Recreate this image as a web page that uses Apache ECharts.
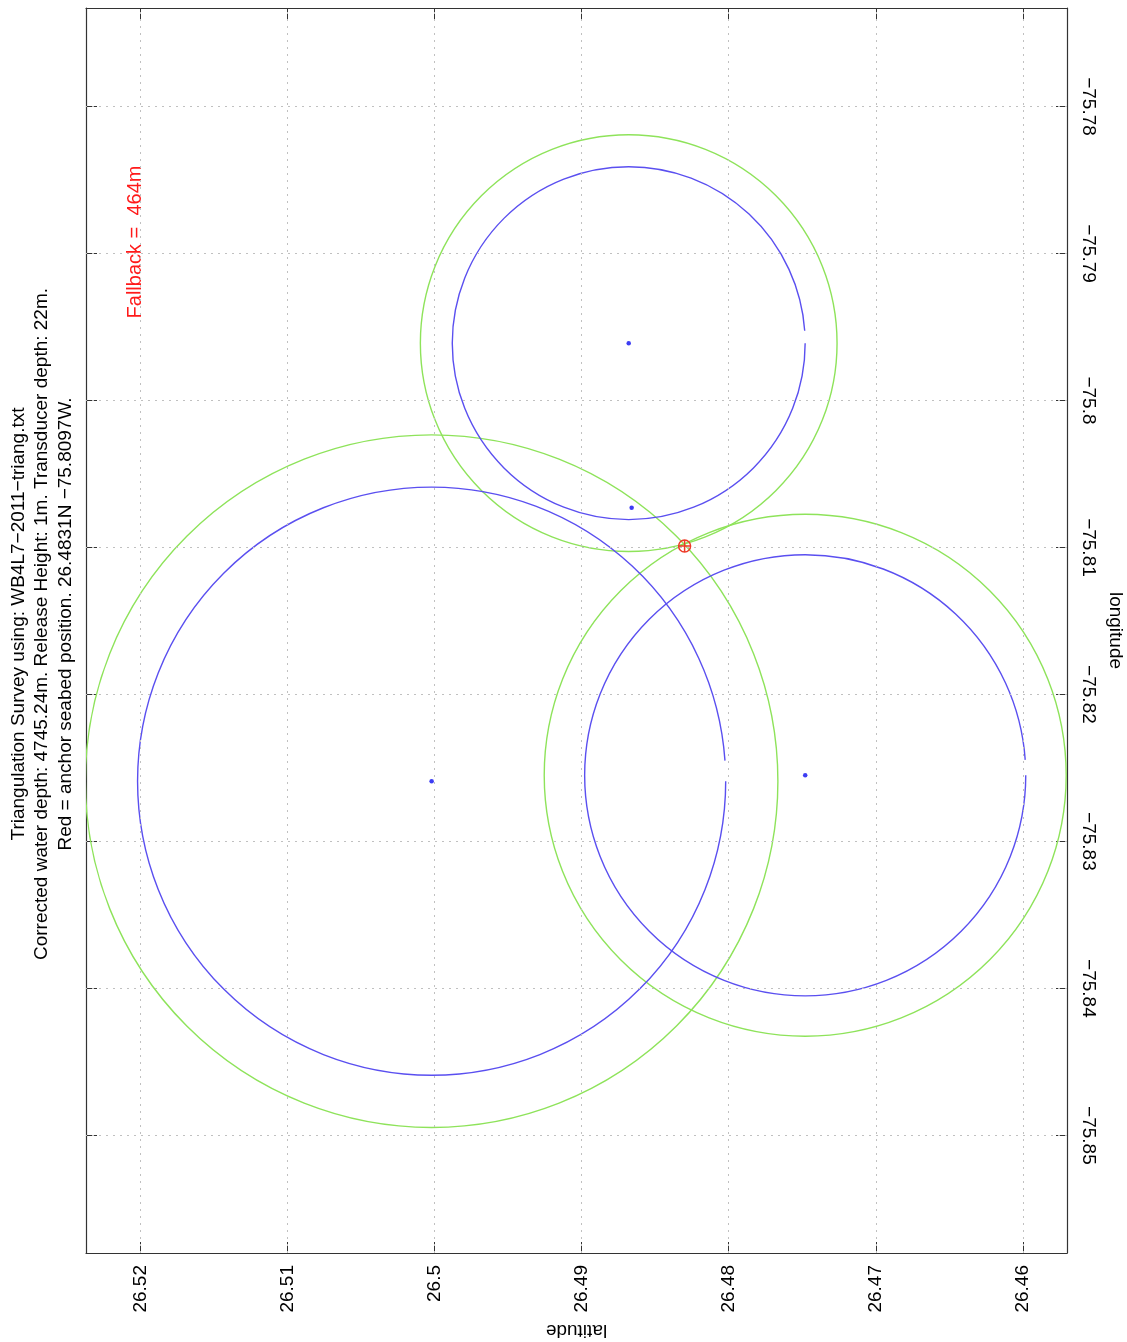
<!DOCTYPE html>
<html><head><meta charset="utf-8">
<script src="https://cdn.jsdelivr.net/npm/echarts@6/dist/echarts.min.js"></script>
<style>html,body{margin:0;padding:0;background:#fff}#c{width:1127px;height:1342px}</style>
</head><body><div id="c"></div>
<script>
// ---- data ----
const latTicks = [26.46, 26.47, 26.48, 26.49, 26.50, 26.51, 26.52];
const lonTicks = [-75.85, -75.84, -75.83, -75.82, -75.81, -75.80, -75.79, -75.78];
const latRange = [26.4570, 26.5237];
const lonRange = [-75.8580, -75.7733];
const stationLat = [26.5002, 26.4868, 26.4748];
const stationLon = [-75.8259, -75.7961, -75.8255];
const blueRadius = [0.0200, 0.0120, 0.0150];
const greenRadius = [0.02355, 0.01417, 0.01775];
const extraDotLat = [26.4866];
const extraDotLon = [-75.8073];
const anchorLat = [26.4830];
const anchorLon = [-75.8099];
const titleLines = [
  'Triangulation Survey using: WB4L7\u22122011\u2212triang.txt',
  'Corrected water depth: 4745.24m. Release Height: 1m. Transducer depth: 22m.',
  'Red = anchor seabed position. 26.4831N \u221275.8097W.'
];
const fallbackText = 'Fallback =  464m';

const FONT = 'Liberation Sans, Arial, Helvetica, sans-serif';
const FS = 19;

function fmt(v) {
  return parseFloat(Number(v).toFixed(4)).toString().replace('-', '\u2212');
}

function circleRender(color, gap) {
  return function (params, api) {
    const c = api.coord([api.value(0), api.value(1)]);
    const s = api.size([api.value(2), api.value(2)]);
    return {
      type: 'arc',
      shape: { cx: c[0], cy: c[1], r: (s[0] + s[1]) / 2, startAngle: 0, endAngle: Math.PI * 2 - gap, clockwise: true },
      style: { stroke: color, fill: 'none', lineWidth: 1.4 }
    };
  };
}

const blueData = stationLat.map((v, i) => [v, stationLon[i], blueRadius[i]]);
const greenData = stationLat.map((v, i) => [v, stationLon[i], greenRadius[i]]);
const dotData = stationLat.map((v, i) => [v, stationLon[i]]).concat(extraDotLat.map((v, i) => [v, extraDotLon[i]]));
const anchorData = anchorLat.map((v, i) => [v, anchorLon[i]]);

const axisCommon = {
  type: 'value',
  axisLine: { show: true, lineStyle: { color: '#333', width: 1.2 } },
  splitLine: { show: false },
};

const chart = echarts.init(document.getElementById('c'), null, { renderer: 'canvas' });
chart.setOption({
  backgroundColor: '#fff',
  animation: false,
  grid: { left: 86, right: 60, top: 8, bottom: 89, outerBoundsMode: 'none', show: false },
  xAxis: [
    Object.assign({}, axisCommon, {
      position: 'bottom', inverse: true, min: latRange[0], max: latRange[1],
      name: 'latitude', nameLocation: 'middle', nameGap: 62, nameRotate: 180,
      nameTextStyle: { fontSize: FS, fontFamily: FONT, color: '#000' },
      axisTick: { show: true, inside: true, length: 11, customValues: latTicks, lineStyle: { color: '#333' } },
      axisLabel: { show: true, customValues: latTicks, rotate: 90, margin: 12, fontSize: FS, fontFamily: FONT, color: '#000', formatter: fmt }
    }),
    Object.assign({}, axisCommon, {
      position: 'top', inverse: true, min: latRange[0], max: latRange[1],
      axisTick: { show: true, inside: true, length: 11, customValues: latTicks, lineStyle: { color: '#333' } },
      axisLabel: { show: false }
    })
  ],
  yAxis: [
    Object.assign({}, axisCommon, {
      position: 'right', min: lonRange[0], max: lonRange[1],
      name: 'longitude', nameLocation: 'middle', nameGap: 32, nameRotate: -90,
      nameTextStyle: { fontSize: FS, fontFamily: FONT, color: '#000' },
      axisTick: { show: true, inside: true, length: 11, customValues: lonTicks, lineStyle: { color: '#333' } },
      axisLabel: { show: true, customValues: lonTicks, rotate: -90, margin: 12, fontSize: FS, fontFamily: FONT, color: '#000', formatter: fmt }
    }),
    Object.assign({}, axisCommon, {
      position: 'left', min: lonRange[0], max: lonRange[1],
      axisTick: { show: true, inside: true, length: 11, customValues: lonTicks, lineStyle: { color: '#333' } },
      axisLabel: { show: false }
    })
  ],
  graphic: [
    {
      type: 'text', x: 42, y: 624, rotation: Math.PI / 2,
      style: { text: titleLines.join('\n'), fontSize: FS, fontFamily: FONT, fill: '#000', textAlign: 'center', textVerticalAlign: 'middle', lineHeight: 23.5 }
    },
    {
      type: 'text', x: 135, y: 242, rotation: Math.PI / 2,
      style: { text: fallbackText, fontSize: 20, fontFamily: FONT, fill: '#ff1a1a', textAlign: 'center', textVerticalAlign: 'middle' }
    }
  ],
  series: [
    {
      name: 'grid', type: 'scatter', data: [], z: 1, silent: true,
      markLine: {
        silent: true, symbol: ['none', 'none'], animation: false,
        label: { show: false },
        lineStyle: { color: '#c0c0c0', type: [2, 5], width: 1 },
        data: latTicks.map(v => ({ xAxis: v })).concat(lonTicks.map(v => ({ yAxis: v })))
      }
    },
    { name: 'green', type: 'custom', clip: true, renderItem: circleRender('#8ee35a', 0), data: greenData, encode: { x: 0, y: 1 }, z: 2 },
    { name: 'blue', type: 'custom', clip: true, renderItem: circleRender('#5a4ff0', 0.07), data: blueData, encode: { x: 0, y: 1 }, z: 3 },
    { name: 'dots', type: 'scatter', symbol: 'circle', symbolSize: 4.5, itemStyle: { color: '#0c0cf0' }, data: dotData, z: 4 },
    {
      name: 'anchor', type: 'custom', data: anchorData, encode: { x: 0, y: 1 }, z: 5,
      renderItem: function (params, api) {
        const c = api.coord([api.value(0), api.value(1)]);
        const r = 6;
        const st = { stroke: '#ee3a28', fill: 'none', lineWidth: 1.5 };
        return {
          type: 'group', children: [
            { type: 'circle', shape: { cx: c[0], cy: c[1], r: r }, style: st },
            { type: 'line', shape: { x1: c[0] - r, y1: c[1], x2: c[0] + r, y2: c[1] }, style: st },
            { type: 'line', shape: { x1: c[0], y1: c[1] - r, x2: c[0], y2: c[1] + r }, style: st }
          ]
        };
      }
    }
  ]
});
</script>
</body></html>
